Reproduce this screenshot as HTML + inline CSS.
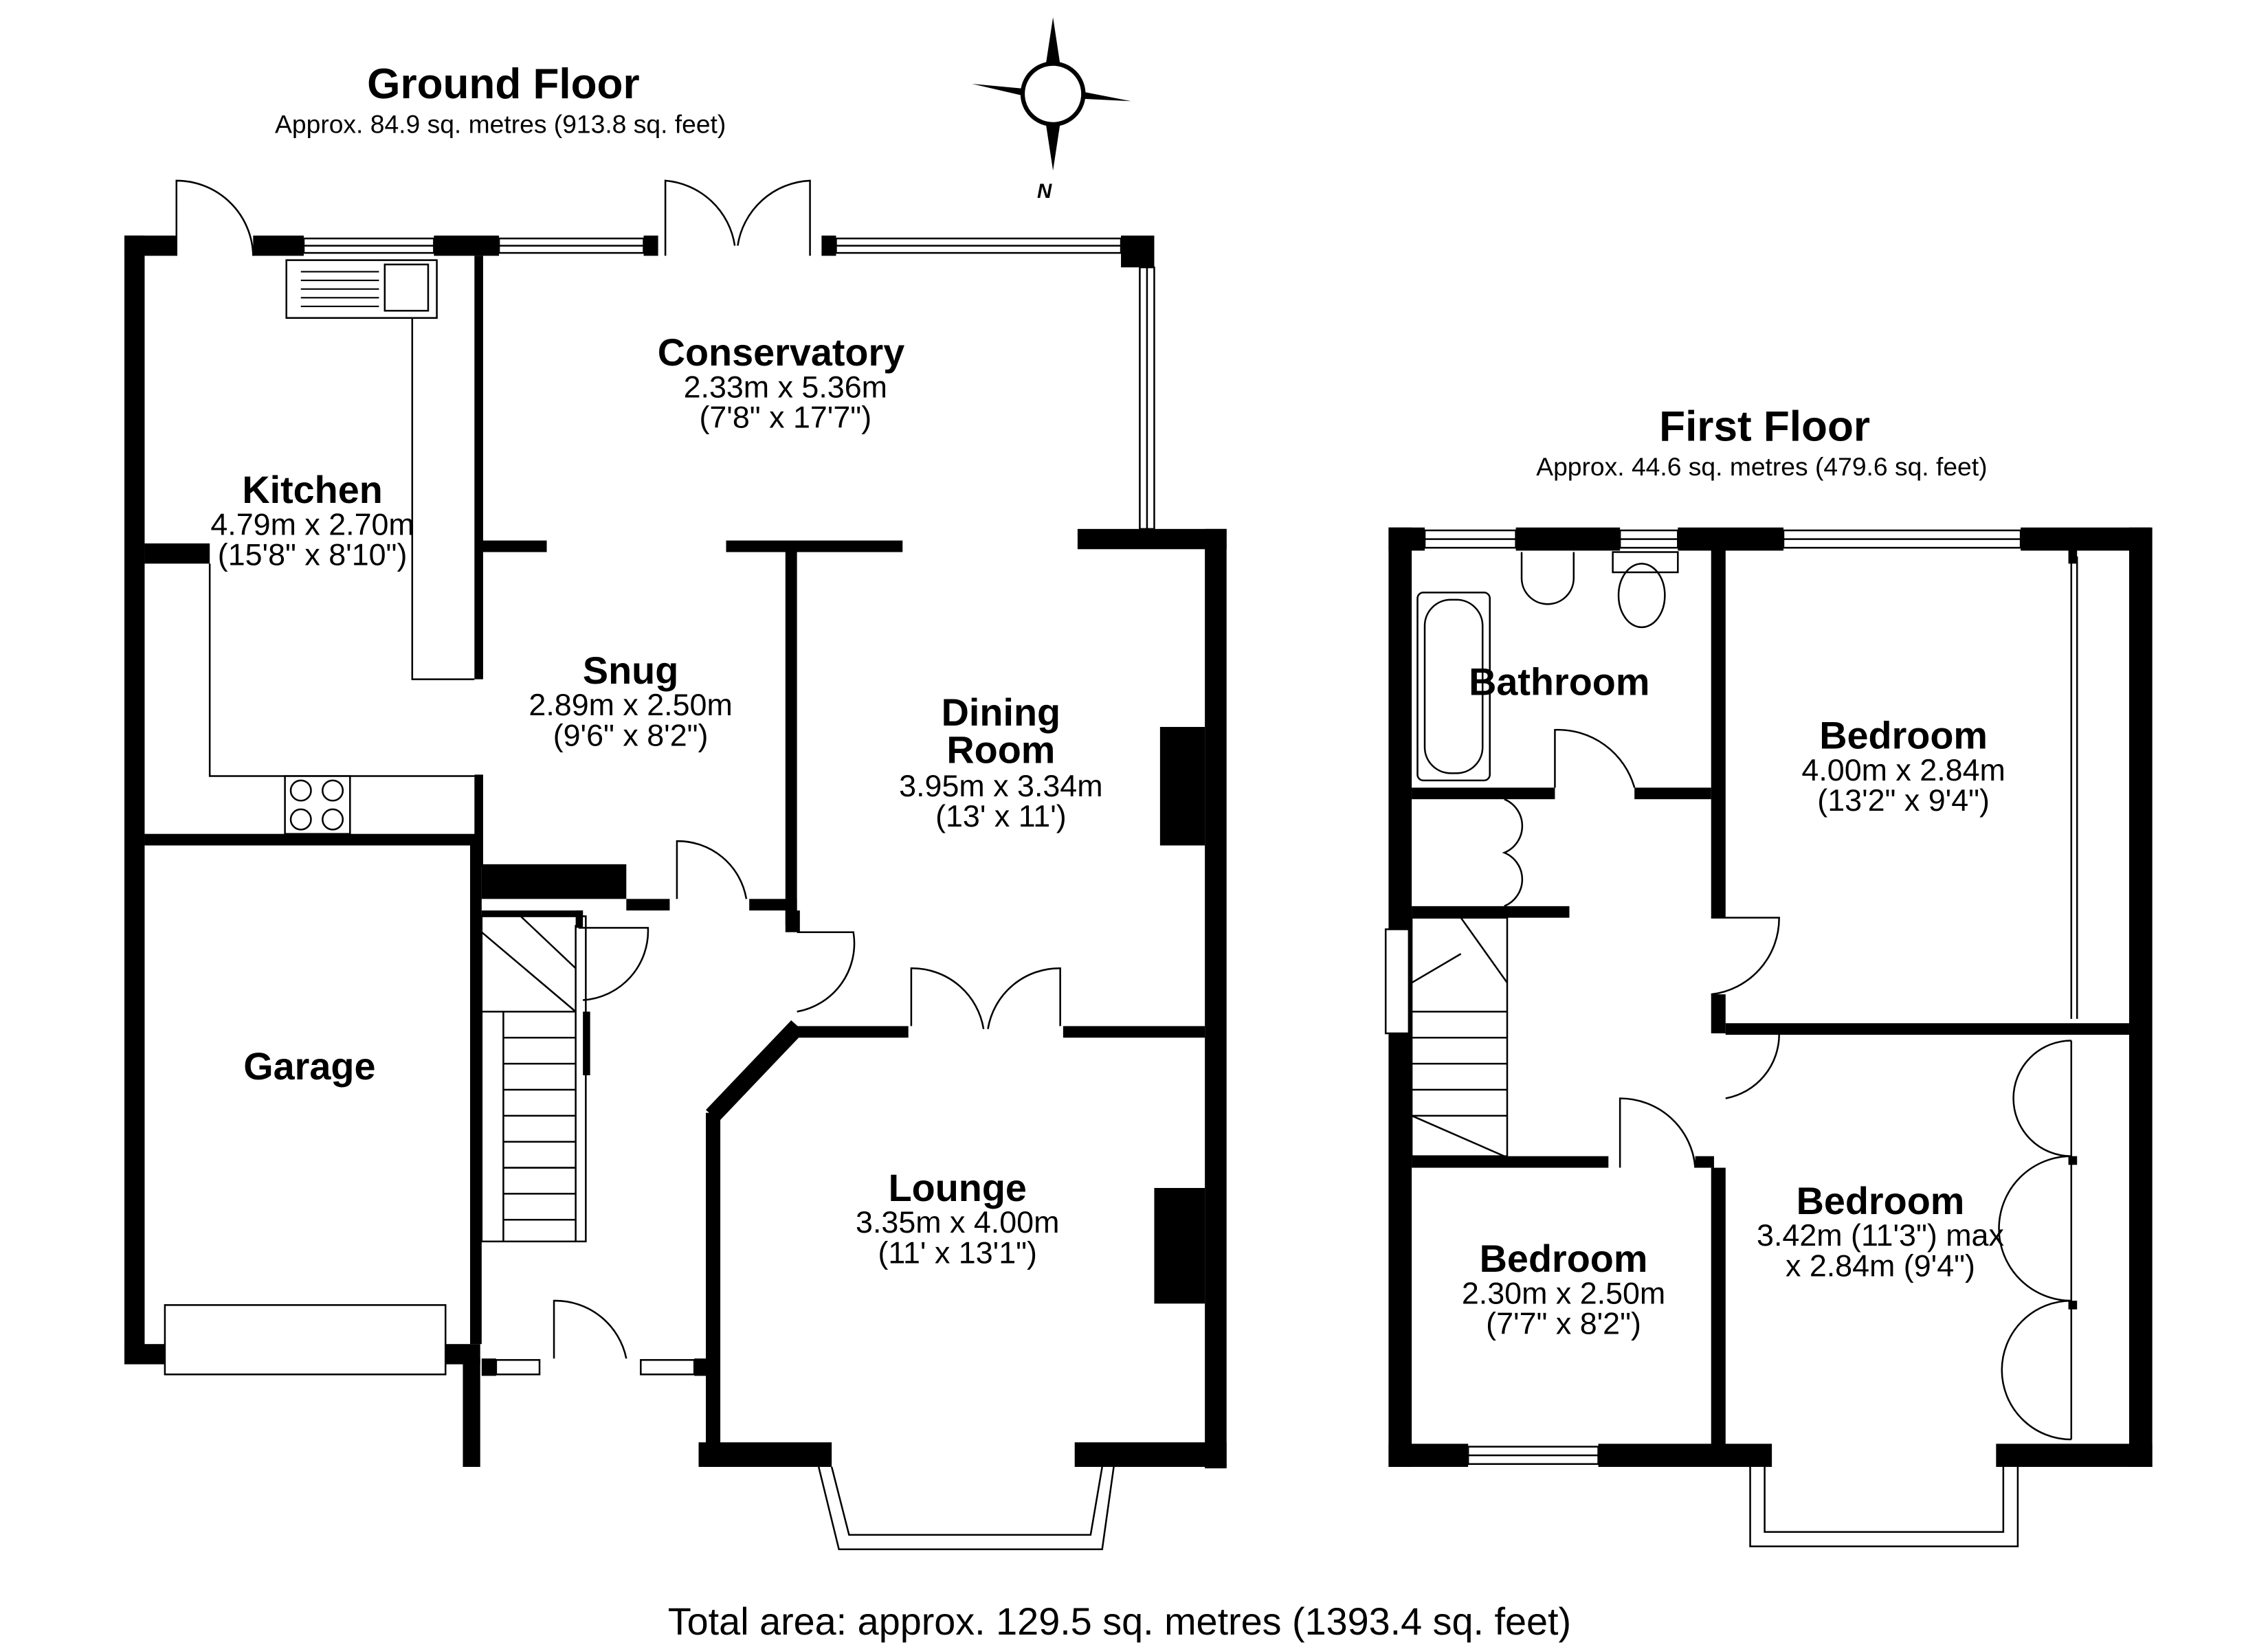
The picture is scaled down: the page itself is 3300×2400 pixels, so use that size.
<!DOCTYPE html>
<html><head><meta charset="utf-8"><style>
html,body{margin:0;padding:0;background:#fff;width:3300px;height:2400px;overflow:hidden}
svg{display:block}
text{font-family:"Liberation Sans",Arial,sans-serif;fill:#000}
.t{font-weight:bold;font-size:26.5px;text-anchor:middle}
.d{font-size:21.3px;text-anchor:middle}
.w{fill:#fff;stroke:#000;stroke-width:1.2}
.l{fill:none;stroke:#000;stroke-width:1.2}
</style></head><body>
<svg width="3300" height="2400" viewBox="0 0 1568 1141" preserveAspectRatio="none">
<!-- Titles -->
<text x="348" y="68" style="font-weight:bold;font-size:29.5px;text-anchor:middle">Ground Floor</text>
<text x="346" y="92" class="d" style="font-size:17.7px">Approx. 84.9 sq. metres (913.8 sq. feet)</text>
<text x="1220" y="305" style="font-weight:bold;font-size:29.5px;text-anchor:middle">First Floor</text>
<text x="1218" y="329" class="d" style="font-size:17.7px">Approx. 44.6 sq. metres (479.6 sq. feet)</text>
<text x="774" y="1131" class="d" style="font-size:26.5px">Total area: approx. 129.5 sq. metres (1393.4 sq. feet)</text>
<!-- Compass -->
<g>
<polygon points="728,12 735,58 721,58" fill="#000"/>
<polygon points="728,118 735,72 721,72"/>
<polygon points="672,58 715,62 715,68" fill="#000"/>
<polygon points="782,70 741,62 741,68" fill="#000"/>
<circle cx="728" cy="65" r="21" fill="#fff" stroke="#000" stroke-width="3"/>
<text x="717" y="137" style="font-size:14px;font-weight:bold;font-style:italic">N</text>
</g>

<!-- ============ GROUND FLOOR ============ -->
<g fill="#000">
<rect x="86" y="163" width="14" height="780"/>
<rect x="86" y="930" width="28" height="14"/>
<rect x="308" y="930" width="24" height="14"/>
<rect x="320" y="940" width="12" height="75"/>
<rect x="100" y="577" width="232" height="8"/>
<rect x="325" y="585" width="8" height="345"/>
<rect x="100" y="376" width="45" height="14"/>
<rect x="86" y="163" width="36" height="14"/>
<rect x="175" y="163" width="35" height="14"/>
<rect x="300" y="163" width="45" height="14"/>
<rect x="445" y="163" width="10" height="14"/>
<rect x="568" y="163" width="10" height="14"/>
<rect x="775" y="163" width="23" height="22"/>
<rect x="328" y="177" width="6" height="293"/>
<rect x="328" y="536" width="6" height="64"/>
<rect x="333" y="374" width="45" height="8"/>
<rect x="502" y="374" width="122" height="8"/>
<rect x="543" y="378" width="8" height="262"/>
<rect x="745" y="366" width="103" height="14"/>
<rect x="833" y="366" width="15" height="650"/>
<rect x="802" y="503" width="31" height="82"/>
<rect x="798" y="822" width="35" height="80"/>
<rect x="333" y="598" width="100" height="24"/>
<rect x="433" y="622" width="30" height="8"/>
<rect x="518" y="622" width="33" height="8"/>
<rect x="543" y="630" width="10" height="15"/>
<rect x="551" y="710" width="77" height="8"/>
<rect x="735" y="710" width="98" height="8"/>
<polygon points="547,706 556,714 497,776 488,768"/>
<rect x="488" y="770" width="10" height="245"/>
<rect x="483" y="998" width="92" height="17"/>
<rect x="743" y="998" width="105" height="17"/>
<rect x="333" y="940" width="10" height="12"/>
<rect x="480" y="940" width="10" height="12"/>
<rect x="333" y="630" width="70" height="4"/>
<rect x="398" y="630" width="5" height="12"/>
<rect x="403" y="700" width="5" height="44"/>
</g>
<rect class="w" x="210" y="165" width="90" height="10"/>
<line class="l" x1="210" y1="170" x2="300" y2="170"/>
<rect class="w" x="345" y="165" width="100" height="10"/>
<line class="l" x1="345" y1="170" x2="445" y2="170"/>
<rect class="w" x="578" y="165" width="197" height="10"/>
<line class="l" x1="578" y1="170" x2="775" y2="170"/>
<rect class="w" x="788" y="185" width="10" height="181"/>
<line class="l" x1="793" y1="185" x2="793" y2="366"/>
<rect class="w" x="114" y="903" width="194" height="48"/>
<rect class="w" x="343" y="941" width="30" height="10"/>
<rect class="w" x="443" y="941" width="37" height="10"/>
<polyline class="l" points="566,1015 580,1072 762,1072 770,1015"/>
<polyline class="l" points="575,1015 587,1062 754,1062 762,1015"/>
<path class="l" d="M122,177 L122,125 A53,53 0 0 1 175,177"/>
<path class="l" d="M460,177 L460,125 A53,53 0 0 1 508,170 M560,177 L560,125 A53,53 0 0 0 510,170"/>
<path class="l" d="M468,622 L468,582 A48,48 0 0 1 516,622"/>
<path class="l" d="M551,645 L590,645 A48,48 0 0 1 551,700"/>
<path class="l" d="M630,710 L630,670 A50,50 0 0 1 680,712 M733,710 L733,670 A50,50 0 0 0 683,712"/>
<path class="l" d="M383,940 L383,900 A50,50 0 0 1 433,940"/>
<path class="l" d="M400,642 L448,642 A48,48 0 0 1 403,692"/>
<polyline class="l" points="145,390 145,537 328,537"/>
<polyline class="l" points="285,220 285,470 328,470"/>
<rect class="w" x="198" y="180" width="104" height="40"/>
<rect class="w" x="266" y="183" width="30" height="32"/>
<g stroke="#000" stroke-width="1">
<line x1="208" y1="188" x2="262" y2="188"/><line x1="208" y1="194" x2="262" y2="194"/><line x1="208" y1="200" x2="262" y2="200"/><line x1="208" y1="206" x2="262" y2="206"/><line x1="208" y1="212" x2="262" y2="212"/></g>
<rect class="w" x="197" y="537" width="45" height="40"/>
<circle class="l" cx="208" cy="547" r="7"/><circle class="l" cx="230" cy="547" r="7"/>
<circle class="l" cx="208" cy="567" r="7"/><circle class="l" cx="230" cy="567" r="7"/>
<rect class="l" x="333" y="634" width="72" height="225"/>
<g class="l"><line x1="333" y1="700" x2="398" y2="700"/>
<line x1="348" y1="718" x2="398" y2="718"/><line x1="348" y1="736" x2="398" y2="736"/><line x1="348" y1="754" x2="398" y2="754"/><line x1="348" y1="772" x2="398" y2="772"/><line x1="348" y1="790" x2="398" y2="790"/><line x1="348" y1="808" x2="398" y2="808"/><line x1="348" y1="826" x2="398" y2="826"/><line x1="348" y1="844" x2="398" y2="844"/>
<line x1="348" y1="700" x2="348" y2="859"/><line x1="398" y1="640" x2="398" y2="859"/>
<line x1="333" y1="645" x2="398" y2="700"/><line x1="360" y1="634" x2="398" y2="670"/></g>

<!-- ============ FIRST FLOOR ============ -->
<g fill="#000">
<rect x="960" y="365" width="16" height="650"/>
<rect x="960" y="365" width="25" height="16"/>
<rect x="1048" y="365" width="72" height="16"/>
<rect x="1160" y="365" width="73" height="16"/>
<rect x="1397" y="365" width="90" height="16"/>
<rect x="1472" y="365" width="16" height="650"/>
<rect x="960" y="999" width="55" height="16"/>
<rect x="1105" y="999" width="120" height="16"/>
<rect x="1380" y="999" width="108" height="16"/>
<rect x="1183" y="380" width="10" height="255"/>
<rect x="1183" y="688" width="10" height="27"/>
<rect x="1183" y="808" width="10" height="192"/>
<rect x="976" y="545" width="99" height="8"/>
<rect x="1130" y="545" width="53" height="8"/>
<rect x="1193" y="708" width="279" height="8"/>
<rect x="976" y="627" width="109" height="8"/>
<rect x="976" y="800" width="136" height="8"/>
<rect x="1172" y="800" width="13" height="8"/>
<rect x="1430" y="380" width="6" height="10"/>
<rect x="1430" y="800" width="6" height="6"/>
<rect x="1430" y="900" width="6" height="6"/>
</g>
<rect class="w" x="985" y="367" width="63" height="12"/><line class="l" x1="985" y1="373" x2="1048" y2="373"/>
<rect class="w" x="1120" y="367" width="40" height="12"/><line class="l" x1="1120" y1="373" x2="1160" y2="373"/>
<rect class="w" x="1233" y="367" width="164" height="12"/><line class="l" x1="1233" y1="373" x2="1397" y2="373"/>
<rect class="w" x="1015" y="1001" width="90" height="12"/><line class="l" x1="1015" y1="1007" x2="1105" y2="1007"/>
<rect class="w" x="958" y="643" width="16" height="72"/>
<polyline class="l" points="1210,1015 1210,1070 1395,1070 1395,1015"/>
<polyline class="l" points="1220,1015 1220,1060 1385,1060 1385,1015"/>
<rect class="w" x="980" y="410" width="50" height="130" rx="4"/>
<rect class="l" x="985" y="415" width="40" height="120" rx="18"/>
<path class="l" d="M1052,382 L1052,400 A18,18 0 0 0 1088,400 L1088,382"/>
<rect class="w" x="1115" y="382" width="45" height="14"/>
<ellipse class="l" cx="1135" cy="412" rx="16" ry="22"/>
<line class="l" x1="1432" y1="385" x2="1432" y2="705"/>
<line class="l" x1="1436" y1="385" x2="1436" y2="705"/>
<path class="l" d="M1432,720 A40,40 0 0 0 1432,800 A40,40 0 0 0 1432,900 A40,40 0 0 0 1432,996"/>
<line class="l" x1="1432" y1="720" x2="1432" y2="996"/>
<path class="l" d="M1075,545 L1075,505 A55,55 0 0 1 1130,545"/>
<path class="l" d="M1183,635 L1230,635 A53,53 0 0 1 1183,688"/>
<path class="l" d="M1193,715 L1230,715 A45,45 0 0 1 1193,760"/>
<path class="l" d="M1120,808 L1120,760 A52,52 0 0 1 1172,808"/>
<path class="l" d="M1040,553 A20,20 0 0 1 1040,590 A20,20 0 0 1 1040,627"/>
<g class="l"><rect x="976" y="635" width="66" height="165"/>
<line x1="976" y1="700" x2="1042" y2="700"/><line x1="976" y1="718" x2="1042" y2="718"/><line x1="976" y1="736" x2="1042" y2="736"/><line x1="976" y1="754" x2="1042" y2="754"/><line x1="976" y1="772" x2="1042" y2="772"/>
<line x1="1010" y1="635" x2="1042" y2="680"/><line x1="976" y1="680" x2="1010" y2="660"/><line x1="976" y1="772" x2="1040" y2="800"/></g>

<!-- LABELS -->
<text class="t" x="540" y="253">Conservatory</text>
<text class="d" x="543" y="275">2.33m x 5.36m</text>
<text class="d" x="543" y="296">(7'8" x 17'7")</text>
<text class="t" x="216" y="348">Kitchen</text>
<text class="d" x="216" y="370">4.79m x 2.70m</text>
<text class="d" x="216" y="391">(15'8" x 8'10")</text>
<text class="t" x="436" y="473">Snug</text>
<text class="d" x="436" y="495">2.89m x 2.50m</text>
<text class="d" x="436" y="516">(9'6" x 8'2")</text>
<text class="t" x="692" y="502">Dining</text>
<text class="t" x="692" y="528">Room</text>
<text class="d" x="692" y="551">3.95m x 3.34m</text>
<text class="d" x="692" y="572">(13' x 11')</text>
<text class="t" x="214" y="747">Garage</text>
<text class="t" x="662" y="831">Lounge</text>
<text class="d" x="662" y="853">3.35m x 4.00m</text>
<text class="d" x="662" y="874">(11' x 13'1")</text>
<text class="t" x="1078" y="481">Bathroom</text>
<text class="t" x="1316" y="518">Bedroom</text>
<text class="d" x="1316" y="540">4.00m x 2.84m</text>
<text class="d" x="1316" y="561">(13'2" x 9'4")</text>
<text class="t" x="1300" y="840">Bedroom</text>
<text class="d" x="1300" y="862">3.42m (11'3") max</text>
<text class="d" x="1300" y="883">x 2.84m (9'4")</text>
<text class="t" x="1081" y="880">Bedroom</text>
<text class="d" x="1081" y="902">2.30m x 2.50m</text>
<text class="d" x="1081" y="923">(7'7" x 8'2")</text>
</svg>
</body></html>
